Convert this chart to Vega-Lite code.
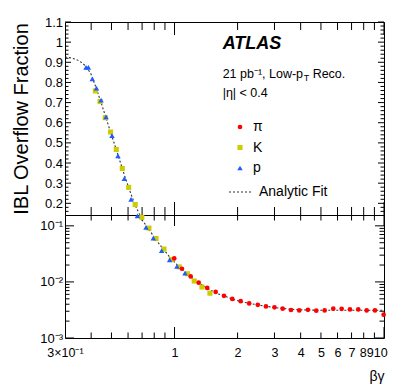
{
  "$schema": "https://vega.github.io/schema/vega-lite/v6.json",
  "background": "white",
  "padding": {"left": 10, "top": 15, "right": 5, "bottom": 5},
  "spacing": 0,
  "bounds": "flush",
  "datasets": {
    "pts": [
      {"particle": "K", "bg": 0.419, "frac": 0.758},
      {"particle": "K", "bg": 0.441, "frac": 0.705},
      {"particle": "K", "bg": 0.467, "frac": 0.625},
      {"particle": "K", "bg": 0.495, "frac": 0.554},
      {"particle": "K", "bg": 0.527, "frac": 0.467},
      {"particle": "K", "bg": 0.563, "frac": 0.373},
      {"particle": "K", "bg": 0.604, "frac": 0.279},
      {"particle": "K", "bg": 0.649, "frac": 0.194},
      {"particle": "K", "bg": 0.698, "frac": 0.1417},
      {"particle": "K", "bg": 0.755, "frac": 0.091},
      {"particle": "K", "bg": 0.816, "frac": 0.0594},
      {"particle": "K", "bg": 0.891, "frac": 0.0385},
      {"particle": "K", "bg": 0.965, "frac": 0.0251},
      {"particle": "K", "bg": 1.054, "frac": 0.0185},
      {"particle": "K", "bg": 1.151, "frac": 0.014},
      {"particle": "K", "bg": 1.242, "frac": 0.01038},
      {"particle": "K", "bg": 1.352, "frac": 0.00811},
      {"particle": "K", "bg": 1.476, "frac": 0.00629},
      {"particle": "p", "bg": 0.378, "frac": 0.875},
      {"particle": "p", "bg": 0.388, "frac": 0.875},
      {"particle": "p", "bg": 0.405, "frac": 0.818},
      {"particle": "p", "bg": 0.424, "frac": 0.772},
      {"particle": "p", "bg": 0.446, "frac": 0.712},
      {"particle": "p", "bg": 0.471, "frac": 0.629},
      {"particle": "p", "bg": 0.503, "frac": 0.536},
      {"particle": "p", "bg": 0.537, "frac": 0.435},
      {"particle": "p", "bg": 0.576, "frac": 0.322},
      {"particle": "p", "bg": 0.62, "frac": 0.219},
      {"particle": "p", "bg": 0.665, "frac": 0.1506},
      {"particle": "p", "bg": 0.731, "frac": 0.094},
      {"particle": "p", "bg": 0.792, "frac": 0.0604},
      {"particle": "p", "bg": 0.868, "frac": 0.0363},
      {"particle": "p", "bg": 0.948, "frac": 0.0248},
      {"particle": "p", "bg": 1.027, "frac": 0.0189},
      {"particle": "p", "bg": 1.122, "frac": 0.0144},
      {"particle": "π", "bg": 0.997, "frac": 0.0262},
      {"particle": "π", "bg": 1.085, "frac": 0.01718},
      {"particle": "π", "bg": 1.194, "frac": 0.01253},
      {"particle": "π", "bg": 1.304, "frac": 0.00968},
      {"particle": "π", "bg": 1.433, "frac": 0.00782},
      {"particle": "π", "bg": 1.572, "frac": 0.00664},
      {"particle": "π", "bg": 1.722, "frac": 0.00564},
      {"particle": "π", "bg": 1.887, "frac": 0.00497},
      {"particle": "π", "bg": 2.069, "frac": 0.00454},
      {"particle": "π", "bg": 2.272, "frac": 0.00413},
      {"particle": "π", "bg": 2.497, "frac": 0.0039},
      {"particle": "π", "bg": 2.732, "frac": 0.00366},
      {"particle": "π", "bg": 3.0, "frac": 0.00352},
      {"particle": "π", "bg": 3.283, "frac": 0.00334},
      {"particle": "π", "bg": 3.597, "frac": 0.00316},
      {"particle": "π", "bg": 3.94, "frac": 0.0031},
      {"particle": "π", "bg": 4.335, "frac": 0.00318},
      {"particle": "π", "bg": 4.749, "frac": 0.00307},
      {"particle": "π", "bg": 5.208, "frac": 0.0031},
      {"particle": "π", "bg": 5.726, "frac": 0.00334},
      {"particle": "π", "bg": 6.278, "frac": 0.00331},
      {"particle": "π", "bg": 6.878, "frac": 0.00323},
      {"particle": "π", "bg": 7.536, "frac": 0.00323},
      {"particle": "π", "bg": 8.265, "frac": 0.0031},
      {"particle": "π", "bg": 9.054, "frac": 0.0031},
      {"particle": "π", "bg": 9.96, "frac": 0.00261}
    ],
    "fit": [
      {"bg": 0.3, "frac": 0.926},
      {"bg": 0.32, "frac": 0.922},
      {"bg": 0.34, "frac": 0.914},
      {"bg": 0.36, "frac": 0.899},
      {"bg": 0.38, "frac": 0.878},
      {"bg": 0.4, "frac": 0.84},
      {"bg": 0.42, "frac": 0.78},
      {"bg": 0.44, "frac": 0.718},
      {"bg": 0.46, "frac": 0.657},
      {"bg": 0.48, "frac": 0.597},
      {"bg": 0.5, "frac": 0.54},
      {"bg": 0.52, "frac": 0.485},
      {"bg": 0.54, "frac": 0.432},
      {"bg": 0.56, "frac": 0.381},
      {"bg": 0.58, "frac": 0.332},
      {"bg": 0.6, "frac": 0.287},
      {"bg": 0.62, "frac": 0.245},
      {"bg": 0.64, "frac": 0.207},
      {"bg": 0.66, "frac": 0.173},
      {"bg": 0.68, "frac": 0.147},
      {"bg": 0.7, "frac": 0.127},
      {"bg": 0.73, "frac": 0.103},
      {"bg": 0.76, "frac": 0.083},
      {"bg": 0.8, "frac": 0.063},
      {"bg": 0.85, "frac": 0.046},
      {"bg": 0.9, "frac": 0.0355},
      {"bg": 0.95, "frac": 0.0275},
      {"bg": 1.0, "frac": 0.0225},
      {"bg": 1.05, "frac": 0.0188},
      {"bg": 1.1, "frac": 0.016},
      {"bg": 1.15, "frac": 0.0138},
      {"bg": 1.2, "frac": 0.0121},
      {"bg": 1.3, "frac": 0.0097},
      {"bg": 1.4, "frac": 0.0081},
      {"bg": 1.5, "frac": 0.007},
      {"bg": 1.6, "frac": 0.0062},
      {"bg": 1.75, "frac": 0.0055},
      {"bg": 1.9, "frac": 0.0049},
      {"bg": 2.1, "frac": 0.0044},
      {"bg": 2.4, "frac": 0.004},
      {"bg": 2.7, "frac": 0.0037},
      {"bg": 3.0, "frac": 0.0035},
      {"bg": 3.5, "frac": 0.00328},
      {"bg": 4.0, "frac": 0.00318},
      {"bg": 5.0, "frac": 0.00312},
      {"bg": 6.0, "frac": 0.00312},
      {"bg": 7.0, "frac": 0.00313},
      {"bg": 8.0, "frac": 0.00313},
      {"bg": 10.0, "frac": 0.00313}
    ]
  },
  "config": {
    "view": {"stroke": "#000000", "strokeWidth": 1},
    "axis": {
      "domain": false, "grid": false, "ticks": false, "tickSize": 0,
      "labelFont": "Liberation Sans", "labelFontSize": 13, "labelColor": "#000000",
      "titleFont": "Liberation Sans", "titleFontWeight": "normal", "titleColor": "#000000",
      "labelFlush": false, "labelOverlap": false, "labelBound": false
    },
    "rule": {"color": "#000000", "strokeWidth": 1, "opacity": 1}
  },
  "resolve": {
    "scale": {"color": "independent", "shape": "independent", "size": "independent", "strokeDash": "independent"},
    "legend": {"color": "independent", "shape": "independent", "size": "independent", "strokeDash": "independent"}
  },
  "vconcat": [
    {
      "width": 319,
      "height": 193,
      "resolve": {"axis": {"x": "independent", "y": "independent"}},
      "layer": [
        {
          "data": {"name": "fit"},
          "mark": {"type": "line", "clip": true, "stroke": "#333333", "strokeWidth": 1.1, "strokeDash": [2, 2]},
          "encoding": {
            "x": {"field": "bg", "type": "quantitative",
              "scale": {"type": "log", "domain": [0.3, 10], "nice": false}, "axis": null},
            "y": {"field": "frac", "type": "quantitative",
              "scale": {"type": "linear", "domain": [0.142, 1.1], "nice": false, "zero": false},
              "axis": {"orient": "left", "labelPadding": 2.5,
                "values": [0.2, 0.3, 0.4, 0.5, 0.6, 0.7, 0.8, 0.9, 1, 1.1],
                "labelExpr": "datum.value == 1 ? '1' : format(datum.value, '.1f')",
                "title": "IBL Overflow Fraction", "titleFontSize": 20, "titleX": -34}},
            "strokeDash": {"datum": "Analytic Fit", "type": "nominal",
              "scale": {"domain": ["Analytic Fit"], "range": [[2, 2]]},
              "legend": {"title": null, "orient": "none", "legendX": 163, "legendY": 157, "padding": 0,
                "labelFont": "Liberation Sans", "labelFontSize": 14, "labelColor": "#000000",
                "labelOffset": 5, "symbolSize": 576, "symbolStrokeColor": "#333333", "symbolStrokeWidth": 1.1, "symbolType": "stroke"}}
          }
        },
        {
          "data": {"values": [{"tv": 1}, {"tv": 10}]},
          "mark": {"type": "rule"},
          "encoding": {
            "x": {"field": "tv", "type": "quantitative", "scale": {"type": "log", "domain": [0.3, 10], "nice": false}, "axis": null},
            "y": {"datum": 1.1, "type": "quantitative", "scale": {"type": "linear", "domain": [0.142, 1.1], "nice": false, "zero": false}, "axis": null},
            "y2": {"datum": 1.0355}
          }
        },
        {
          "data": {"values": [{"tv": 1}, {"tv": 10}]},
          "mark": {"type": "rule"},
          "encoding": {
            "x": {"field": "tv", "type": "quantitative", "scale": {"type": "log", "domain": [0.3, 10], "nice": false}, "axis": null},
            "y": {"datum": 0.142, "type": "quantitative", "scale": {"type": "linear", "domain": [0.142, 1.1], "nice": false, "zero": false}, "axis": null},
            "y2": {"datum": 0.2065}
          }
        },
        {
          "data": {"values": [{"tv": 0.4}, {"tv": 0.5}, {"tv": 0.6}, {"tv": 0.7}, {"tv": 0.8}, {"tv": 0.9}, {"tv": 2}, {"tv": 3}, {"tv": 4}, {"tv": 5}, {"tv": 6}, {"tv": 7}, {"tv": 8}, {"tv": 9}]},
          "mark": {"type": "rule"},
          "encoding": {
            "x": {"field": "tv", "type": "quantitative", "scale": {"type": "log", "domain": [0.3, 10], "nice": false}, "axis": null},
            "y": {"datum": 1.1, "type": "quantitative", "scale": {"type": "linear", "domain": [0.142, 1.1], "nice": false, "zero": false}, "axis": null},
            "y2": {"datum": 1.0603}
          }
        },
        {
          "data": {"values": [{"tv": 0.4}, {"tv": 0.5}, {"tv": 0.6}, {"tv": 0.7}, {"tv": 0.8}, {"tv": 0.9}, {"tv": 2}, {"tv": 3}, {"tv": 4}, {"tv": 5}, {"tv": 6}, {"tv": 7}, {"tv": 8}, {"tv": 9}]},
          "mark": {"type": "rule"},
          "encoding": {
            "x": {"field": "tv", "type": "quantitative", "scale": {"type": "log", "domain": [0.3, 10], "nice": false}, "axis": null},
            "y": {"datum": 0.142, "type": "quantitative", "scale": {"type": "linear", "domain": [0.142, 1.1], "nice": false, "zero": false}, "axis": null},
            "y2": {"datum": 0.1817}
          }
        },
        {
          "data": {"values": [{"tv": 0.2}, {"tv": 0.3}, {"tv": 0.4}, {"tv": 0.5}, {"tv": 0.6}, {"tv": 0.7}, {"tv": 0.8}, {"tv": 0.9}, {"tv": 1}, {"tv": 1.1}]},
          "mark": {"type": "rule"},
          "encoding": {
            "x": {"datum": 0.3, "type": "quantitative", "scale": {"type": "log", "domain": [0.3, 10], "nice": false}, "axis": null},
            "x2": {"datum": 0.3205},
            "y": {"field": "tv", "type": "quantitative", "scale": {"type": "linear", "domain": [0.142, 1.1], "nice": false, "zero": false}, "axis": null}
          }
        },
        {
          "data": {"values": [{"tv": 0.2}, {"tv": 0.3}, {"tv": 0.4}, {"tv": 0.5}, {"tv": 0.6}, {"tv": 0.7}, {"tv": 0.8}, {"tv": 0.9}, {"tv": 1}, {"tv": 1.1}]},
          "mark": {"type": "rule"},
          "encoding": {
            "x": {"datum": 10, "type": "quantitative", "scale": {"type": "log", "domain": [0.3, 10], "nice": false}, "axis": null},
            "x2": {"datum": 9.3615},
            "y": {"field": "tv", "type": "quantitative", "scale": {"type": "linear", "domain": [0.142, 1.1], "nice": false, "zero": false}, "axis": null}
          }
        },
        {
          "data": {"values": [{"tv": 0.16}, {"tv": 0.18}, {"tv": 0.22}, {"tv": 0.24}, {"tv": 0.26}, {"tv": 0.28}, {"tv": 0.32}, {"tv": 0.34}, {"tv": 0.36}, {"tv": 0.38}, {"tv": 0.42}, {"tv": 0.44}, {"tv": 0.46}, {"tv": 0.48}, {"tv": 0.52}, {"tv": 0.54}, {"tv": 0.56}, {"tv": 0.58}, {"tv": 0.62}, {"tv": 0.64}, {"tv": 0.66}, {"tv": 0.68}, {"tv": 0.72}, {"tv": 0.74}, {"tv": 0.76}, {"tv": 0.78}, {"tv": 0.82}, {"tv": 0.84}, {"tv": 0.86}, {"tv": 0.88}, {"tv": 0.92}, {"tv": 0.94}, {"tv": 0.96}, {"tv": 0.98}, {"tv": 1.02}, {"tv": 1.04}, {"tv": 1.06}, {"tv": 1.08}]},
          "mark": {"type": "rule"},
          "encoding": {
            "x": {"datum": 0.3, "type": "quantitative", "scale": {"type": "log", "domain": [0.3, 10], "nice": false}, "axis": null},
            "x2": {"datum": 0.3118},
            "y": {"field": "tv", "type": "quantitative", "scale": {"type": "linear", "domain": [0.142, 1.1], "nice": false, "zero": false}, "axis": null}
          }
        },
        {
          "data": {"values": [{"tv": 0.16}, {"tv": 0.18}, {"tv": 0.22}, {"tv": 0.24}, {"tv": 0.26}, {"tv": 0.28}, {"tv": 0.32}, {"tv": 0.34}, {"tv": 0.36}, {"tv": 0.38}, {"tv": 0.42}, {"tv": 0.44}, {"tv": 0.46}, {"tv": 0.48}, {"tv": 0.52}, {"tv": 0.54}, {"tv": 0.56}, {"tv": 0.58}, {"tv": 0.62}, {"tv": 0.64}, {"tv": 0.66}, {"tv": 0.68}, {"tv": 0.72}, {"tv": 0.74}, {"tv": 0.76}, {"tv": 0.78}, {"tv": 0.82}, {"tv": 0.84}, {"tv": 0.86}, {"tv": 0.88}, {"tv": 0.92}, {"tv": 0.94}, {"tv": 0.96}, {"tv": 0.98}, {"tv": 1.02}, {"tv": 1.04}, {"tv": 1.06}, {"tv": 1.08}]},
          "mark": {"type": "rule"},
          "encoding": {
            "x": {"datum": 10, "type": "quantitative", "scale": {"type": "log", "domain": [0.3, 10], "nice": false}, "axis": null},
            "x2": {"datum": 9.6228},
            "y": {"field": "tv", "type": "quantitative", "scale": {"type": "linear", "domain": [0.142, 1.1], "nice": false, "zero": false}, "axis": null}
          }
        },
        {
          "data": {"name": "pts"},
          "transform": [{"filter": "datum.frac > 0.16"}],
          "mark": {"type": "point", "filled": true, "opacity": 1},
          "encoding": {
            "x": {"field": "bg", "type": "quantitative",
              "scale": {"type": "log", "domain": [0.3, 10], "nice": false}, "axis": null},
            "y": {"field": "frac", "type": "quantitative",
              "scale": {"type": "linear", "domain": [0.142, 1.1], "nice": false, "zero": false}, "axis": null},
            "color": {"field": "particle", "type": "nominal",
              "scale": {"domain": ["π", "K", "p"], "range": ["#ff0000", "#cccc00", "#1f5cff"]},
              "legend": {"title": null, "orient": "none", "legendX": 168, "legendY": 98, "padding": 0,
                "labelFont": "Liberation Sans", "labelFontSize": 14, "labelColor": "#000000",
                "rowPadding": 6.5, "labelOffset": 6, "symbolSize": 30}},
            "shape": {"field": "particle", "type": "nominal",
              "scale": {"domain": ["π", "K", "p"], "range": ["circle", "square", "triangle-up"]},
              "legend": {"title": null, "orient": "none", "legendX": 168, "legendY": 98, "padding": 0,
                "labelFont": "Liberation Sans", "labelFontSize": 14, "labelColor": "#000000",
                "rowPadding": 6.5, "labelOffset": 6, "symbolSize": 30}},
            "size": {"field": "particle", "type": "nominal",
              "scale": {"domain": ["π", "K", "p"], "range": [22, 30, 36]}, "legend": null}
          }
        },
        {
          "data": {"values": [{"t": "ATLAS"}]},
          "mark": {"type": "text", "align": "left", "baseline": "alphabetic", "font": "Liberation Sans", "fontSize": 18, "fontWeight": "bold", "fontStyle": "italic", "color": "#000000"},
          "encoding": {
            "x": {"datum": 1.697, "type": "quantitative", "scale": {"type": "log", "domain": [0.3, 10], "nice": false}, "axis": null},
            "y": {"datum": 0.964, "type": "quantitative", "scale": {"type": "linear", "domain": [0.142, 1.1], "nice": false, "zero": false}, "axis": null},
            "text": {"field": "t"}
          }
        },
        {
          "data": {"values": [{"t": "21 pb⁻¹, Low-p"}]},
          "mark": {"type": "text", "align": "left", "baseline": "alphabetic", "font": "Liberation Sans", "fontSize": 12.5, "color": "#000000"},
          "encoding": {
            "x": {"datum": 1.697, "type": "quantitative", "scale": {"type": "log", "domain": [0.3, 10], "nice": false}, "axis": null},
            "y": {"datum": 0.824, "type": "quantitative", "scale": {"type": "linear", "domain": [0.142, 1.1], "nice": false, "zero": false}, "axis": null},
            "text": {"field": "t"}
          }
        },
        {
          "data": {"values": [{"t": "T"}]},
          "mark": {"type": "text", "align": "left", "baseline": "alphabetic", "font": "Liberation Sans", "fontSize": 9, "dx": 81, "dy": 3, "color": "#000000"},
          "encoding": {
            "x": {"datum": 1.697, "type": "quantitative", "scale": {"type": "log", "domain": [0.3, 10], "nice": false}, "axis": null},
            "y": {"datum": 0.824, "type": "quantitative", "scale": {"type": "linear", "domain": [0.142, 1.1], "nice": false, "zero": false}, "axis": null},
            "text": {"field": "t"}
          }
        },
        {
          "data": {"values": [{"t": "Reco."}]},
          "mark": {"type": "text", "align": "left", "baseline": "alphabetic", "font": "Liberation Sans", "fontSize": 12.5, "dx": 90, "color": "#000000"},
          "encoding": {
            "x": {"datum": 1.697, "type": "quantitative", "scale": {"type": "log", "domain": [0.3, 10], "nice": false}, "axis": null},
            "y": {"datum": 0.824, "type": "quantitative", "scale": {"type": "linear", "domain": [0.142, 1.1], "nice": false, "zero": false}, "axis": null},
            "text": {"field": "t"}
          }
        },
        {
          "data": {"values": [{"t": "|η| < 0.4"}]},
          "mark": {"type": "text", "align": "left", "baseline": "alphabetic", "font": "Liberation Sans", "fontSize": 12.5, "color": "#000000"},
          "encoding": {
            "x": {"datum": 1.697, "type": "quantitative", "scale": {"type": "log", "domain": [0.3, 10], "nice": false}, "axis": null},
            "y": {"datum": 0.726, "type": "quantitative", "scale": {"type": "linear", "domain": [0.142, 1.1], "nice": false, "zero": false}, "axis": null},
            "text": {"field": "t"}
          }
        }
      ]
    },
    {
      "width": 319,
      "height": 123,
      "resolve": {"axis": {"x": "independent", "y": "independent"}},
      "layer": [
        {
          "data": {"name": "fit"},
          "mark": {"type": "line", "clip": true, "stroke": "#333333", "strokeWidth": 1.1, "strokeDash": [2, 2]},
          "encoding": {
            "x": {"field": "bg", "type": "quantitative",
              "scale": {"type": "log", "domain": [0.3, 10], "nice": false},
              "axis": {"orient": "bottom", "labelPadding": 8, "labelFontSize": 12.5,
                "values": [0.3, 1, 2, 3, 4, 5, 6, 7],
                "labelExpr": "datum.value == 0.3 ? '3×10⁻¹' : format(datum.value, 'd')",
                "title": "βγ", "titleFontSize": 14, "titleAnchor": "end", "titleAlign": "right", "titleX": 319, "titleY": 31.5}},
            "y": {"field": "frac", "type": "quantitative",
              "scale": {"type": "log", "domain": [0.001, 0.156], "nice": false},
              "axis": {"orient": "left", "labelPadding": 2.5, "title": null,
                "values": [0.001, 0.01, 0.1],
                "labelExpr": "datum.value == 0.1 ? '10⁻¹' : datum.value == 0.01 ? '10⁻²' : '10⁻³'"}}
          }
        },
        {
          "data": {"values": [{"tv": 8}]},
          "mark": {"type": "point", "opacity": 0, "size": 0},
          "encoding": {
            "x": {"field": "tv", "type": "quantitative",
              "scale": {"type": "log", "domain": [0.3, 10], "nice": false},
              "axis": {"orient": "bottom", "labelPadding": 8, "labelFontSize": 12.5, "title": null,
                "values": [8], "labelOffset": -1, "labelExpr": "format(datum.value, 'd')"}},
            "y": {"datum": 0.01, "type": "quantitative", "scale": {"type": "log", "domain": [0.001, 0.156], "nice": false}, "axis": null}
          }
        },
        {
          "data": {"values": [{"tv": 9}]},
          "mark": {"type": "point", "opacity": 0, "size": 0},
          "encoding": {
            "x": {"field": "tv", "type": "quantitative",
              "scale": {"type": "log", "domain": [0.3, 10], "nice": false},
              "axis": {"orient": "bottom", "labelPadding": 8, "labelFontSize": 12.5, "title": null,
                "values": [9], "labelOffset": -4.7, "labelExpr": "format(datum.value, 'd')"}},
            "y": {"datum": 0.01, "type": "quantitative", "scale": {"type": "log", "domain": [0.001, 0.156], "nice": false}, "axis": null}
          }
        },
        {
          "data": {"values": [{"tv": 10}]},
          "mark": {"type": "point", "opacity": 0, "size": 0},
          "encoding": {
            "x": {"field": "tv", "type": "quantitative",
              "scale": {"type": "log", "domain": [0.3, 10], "nice": false},
              "axis": {"orient": "bottom", "labelPadding": 8, "labelFontSize": 12.5, "title": null,
                "values": [10], "labelOffset": -3.7, "labelExpr": "format(datum.value, 'd')"}},
            "y": {"datum": 0.01, "type": "quantitative", "scale": {"type": "log", "domain": [0.001, 0.156], "nice": false}, "axis": null}
          }
        },
        {
          "data": {"values": [{"tv": 1}, {"tv": 10}]},
          "mark": {"type": "rule"},
          "encoding": {
            "x": {"field": "tv", "type": "quantitative", "scale": {"type": "log", "domain": [0.3, 10], "nice": false}, "axis": null},
            "y": {"datum": 0.156, "type": "quantitative", "scale": {"type": "log", "domain": [0.001, 0.156], "nice": false}, "axis": null},
            "y2": {"datum": 0.0993}
          }
        },
        {
          "data": {"values": [{"tv": 1}, {"tv": 10}]},
          "mark": {"type": "rule"},
          "encoding": {
            "x": {"field": "tv", "type": "quantitative", "scale": {"type": "log", "domain": [0.3, 10], "nice": false}, "axis": null},
            "y": {"datum": 0.001, "type": "quantitative", "scale": {"type": "log", "domain": [0.001, 0.156], "nice": false}, "axis": null},
            "y2": {"datum": 0.001571}
          }
        },
        {
          "data": {"values": [{"tv": 0.4}, {"tv": 0.5}, {"tv": 0.6}, {"tv": 0.7}, {"tv": 0.8}, {"tv": 0.9}, {"tv": 2}, {"tv": 3}, {"tv": 4}, {"tv": 5}, {"tv": 6}, {"tv": 7}, {"tv": 8}, {"tv": 9}]},
          "mark": {"type": "rule"},
          "encoding": {
            "x": {"field": "tv", "type": "quantitative", "scale": {"type": "log", "domain": [0.3, 10], "nice": false}, "axis": null},
            "y": {"datum": 0.156, "type": "quantitative", "scale": {"type": "log", "domain": [0.001, 0.156], "nice": false}, "axis": null},
            "y2": {"datum": 0.12445}
          }
        },
        {
          "data": {"values": [{"tv": 0.4}, {"tv": 0.5}, {"tv": 0.6}, {"tv": 0.7}, {"tv": 0.8}, {"tv": 0.9}, {"tv": 2}, {"tv": 3}, {"tv": 4}, {"tv": 5}, {"tv": 6}, {"tv": 7}, {"tv": 8}, {"tv": 9}]},
          "mark": {"type": "rule"},
          "encoding": {
            "x": {"field": "tv", "type": "quantitative", "scale": {"type": "log", "domain": [0.3, 10], "nice": false}, "axis": null},
            "y": {"datum": 0.001, "type": "quantitative", "scale": {"type": "log", "domain": [0.001, 0.156], "nice": false}, "axis": null},
            "y2": {"datum": 0.0012535}
          }
        },
        {
          "data": {"values": [{"tv": 0.001}, {"tv": 0.01}, {"tv": 0.1}]},
          "mark": {"type": "rule"},
          "encoding": {
            "x": {"datum": 0.3, "type": "quantitative", "scale": {"type": "log", "domain": [0.3, 10], "nice": false}, "axis": null},
            "x2": {"datum": 0.3312},
            "y": {"field": "tv", "type": "quantitative", "scale": {"type": "log", "domain": [0.001, 0.156], "nice": false}, "axis": null}
          }
        },
        {
          "data": {"values": [{"tv": 0.001}, {"tv": 0.01}, {"tv": 0.1}]},
          "mark": {"type": "rule"},
          "encoding": {
            "x": {"datum": 10, "type": "quantitative", "scale": {"type": "log", "domain": [0.3, 10], "nice": false}, "axis": null},
            "x2": {"datum": 9.0571},
            "y": {"field": "tv", "type": "quantitative", "scale": {"type": "log", "domain": [0.001, 0.156], "nice": false}, "axis": null}
          }
        },
        {
          "data": {"values": [{"tv": 0.002}, {"tv": 0.003}, {"tv": 0.004}, {"tv": 0.005}, {"tv": 0.006}, {"tv": 0.007}, {"tv": 0.008}, {"tv": 0.009}, {"tv": 0.02}, {"tv": 0.03}, {"tv": 0.04}, {"tv": 0.05}, {"tv": 0.06}, {"tv": 0.07}, {"tv": 0.08}, {"tv": 0.09}]},
          "mark": {"type": "rule"},
          "encoding": {
            "x": {"datum": 0.3, "type": "quantitative", "scale": {"type": "log", "domain": [0.3, 10], "nice": false}, "axis": null},
            "x2": {"datum": 0.3152},
            "y": {"field": "tv", "type": "quantitative", "scale": {"type": "log", "domain": [0.001, 0.156], "nice": false}, "axis": null}
          }
        },
        {
          "data": {"values": [{"tv": 0.002}, {"tv": 0.003}, {"tv": 0.004}, {"tv": 0.005}, {"tv": 0.006}, {"tv": 0.007}, {"tv": 0.008}, {"tv": 0.009}, {"tv": 0.02}, {"tv": 0.03}, {"tv": 0.04}, {"tv": 0.05}, {"tv": 0.06}, {"tv": 0.07}, {"tv": 0.08}, {"tv": 0.09}]},
          "mark": {"type": "rule"},
          "encoding": {
            "x": {"datum": 10, "type": "quantitative", "scale": {"type": "log", "domain": [0.3, 10], "nice": false}, "axis": null},
            "x2": {"datum": 9.5174},
            "y": {"field": "tv", "type": "quantitative", "scale": {"type": "log", "domain": [0.001, 0.156], "nice": false}, "axis": null}
          }
        },
        {
          "data": {"name": "pts"},
          "transform": [{"filter": "datum.frac < 0.16"}],
          "mark": {"type": "point", "filled": true, "opacity": 1},
          "encoding": {
            "x": {"field": "bg", "type": "quantitative",
              "scale": {"type": "log", "domain": [0.3, 10], "nice": false}, "axis": null},
            "y": {"field": "frac", "type": "quantitative",
              "scale": {"type": "log", "domain": [0.001, 0.156], "nice": false}, "axis": null},
            "color": {"field": "particle", "type": "nominal",
              "scale": {"domain": ["π", "K", "p"], "range": ["#ff0000", "#cccc00", "#1f5cff"]}, "legend": null},
            "shape": {"field": "particle", "type": "nominal",
              "scale": {"domain": ["π", "K", "p"], "range": ["circle", "square", "triangle-up"]}, "legend": null},
            "size": {"field": "particle", "type": "nominal",
              "scale": {"domain": ["π", "K", "p"], "range": [22, 30, 36]}, "legend": null}
          }
        }
      ]
    }
  ]
}
